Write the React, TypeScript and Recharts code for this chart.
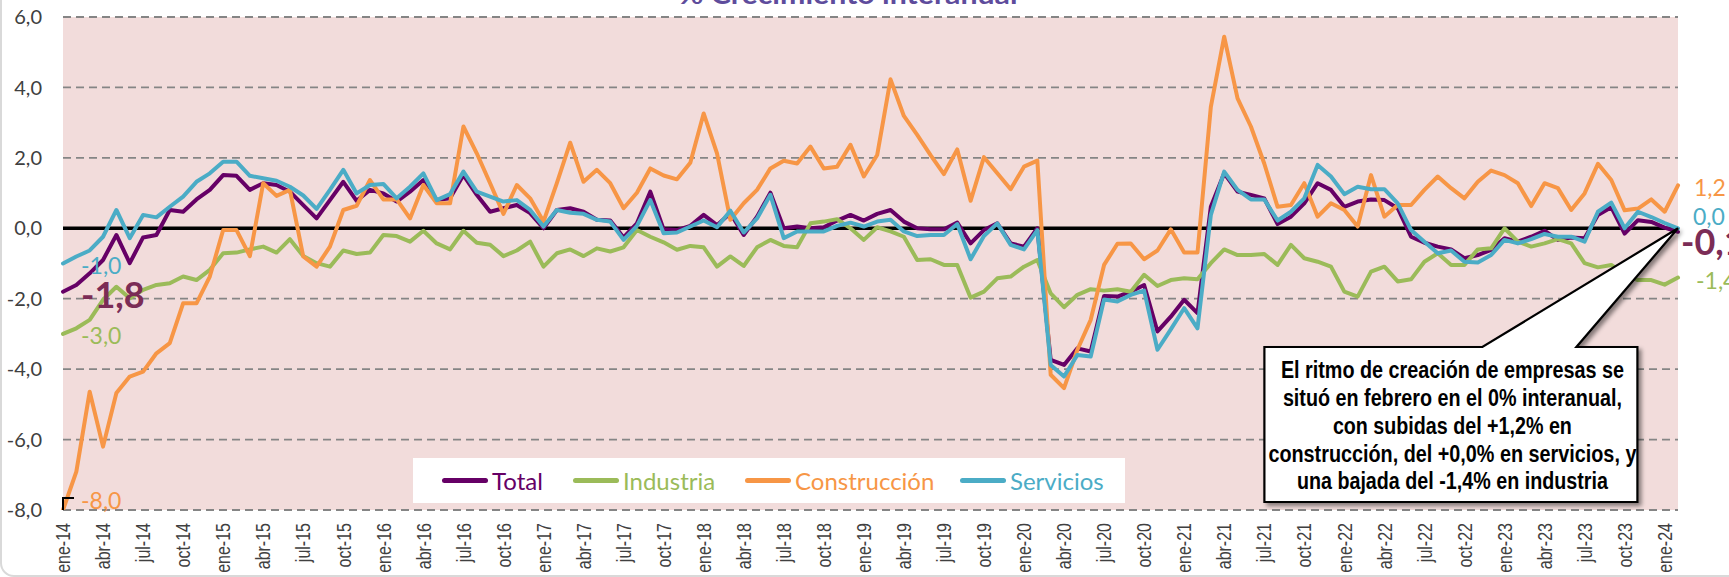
import React from 'react';
import {
  LineChart,
  Line,
  XAxis,
  YAxis,
  CartesianGrid,
  ReferenceLine,
  ReferenceDot,
  Legend,
} from 'recharts';

const MONTHS = ['ene', 'feb', 'mar', 'abr', 'may', 'jun', 'jul', 'ago', 'sep', 'oct', 'nov', 'dic'];
const YEARS = ['14', '15', '16', '17', '18', '19', '20', '21', '22', '23', '24'];
const N_POINTS = 122; // ene-14 .. feb-24
const CATEGORIES: string[] = YEARS.flatMap((y) => MONTHS.map((m) => `${m}-${y}`)).slice(0, N_POINTS);

const Y_TICKS = [-8, -6, -4, -2, 0, 2, 4, 6];

const TOTAL = [
  -1.8, -1.61, -1.28, -0.9, -0.19, -0.99, -0.26, -0.19, 0.52, 0.47, 0.82, 1.09,
  1.51, 1.49, 1.09, 1.28, 1.23, 1.04, 0.66, 0.28, 0.8, 1.32, 0.78, 1.09,
  0.99, 0.76, 1.04, 1.37, 0.8, 0.85, 1.51, 0.95, 0.47, 0.57, 0.66, 0.43,
  0.0, 0.52, 0.57, 0.47, 0.24, 0.22, -0.26, 0.14, 1.04, -0.03, -0.05, 0.07,
  0.38, 0.09, 0.43, -0.19, 0.33, 1.01, 0.0, 0.05, 0.0, 0.03, 0.22, 0.38,
  0.22, 0.41, 0.52, 0.19, 0.0, -0.03, -0.03, 0.16, -0.43, -0.05, 0.14, -0.43,
  -0.52, 0.0, -3.74, -3.88, -3.41, -3.5, -1.92, -1.94, -1.8, -1.61, -2.93, -2.51,
  -2.03, -2.41, 0.61, 1.56, 1.04, 0.95, 0.85, 0.12, 0.33, 0.71, 1.28, 1.09,
  0.61, 0.76, 0.82, 0.8, 0.57, -0.24, -0.41, -0.52, -0.6, -0.85, -0.76, -0.61,
  -0.28, -0.38, -0.24, -0.07, -0.33, -0.26, -0.28, 0.38, 0.6, -0.15, 0.23, 0.18,
  0.02, -0.1,
];

const INDUSTRIA = [
  -3.0, -2.84, -2.6, -2.03, -1.66, -1.99, -1.75, -1.61, -1.56, -1.37, -1.47, -1.18,
  -0.71, -0.69, -0.6, -0.52, -0.69, -0.31, -0.79, -0.99, -1.09, -0.63, -0.73, -0.69,
  -0.19, -0.22, -0.38, -0.07, -0.43, -0.6, -0.07, -0.41, -0.47, -0.79, -0.63, -0.38,
  -1.09, -0.71, -0.6, -0.79, -0.57, -0.66, -0.54, -0.05, -0.24, -0.4, -0.61, -0.5,
  -0.54, -1.09, -0.8, -1.07, -0.54, -0.33, -0.5, -0.54, 0.14, 0.19, 0.26, 0.0,
  -0.33, 0.03, -0.09, -0.24, -0.9, -0.88, -1.04, -1.04, -1.97, -1.8, -1.42, -1.37,
  -1.09, -0.9, -1.85, -2.24, -1.89, -1.73, -1.77, -1.73, -1.8, -1.32, -1.64, -1.47,
  -1.42, -1.45, -0.99, -0.6, -0.76, -0.76, -0.73, -1.04, -0.47, -0.85, -0.95, -1.09,
  -1.8, -1.94, -1.23, -1.09, -1.51, -1.45, -0.95, -0.71, -1.04, -1.04, -0.6, -0.57,
  0.0, -0.38, -0.52, -0.43, -0.31, -0.43, -0.99, -1.11, -1.04, -1.3, -1.47, -1.47,
  -1.6, -1.4,
];

const CONSTRUCCION = [
  -8.0, -6.91, -4.64, -6.2, -4.68, -4.21, -4.07, -3.55, -3.26, -2.13, -2.13, -1.37,
  -0.05, -0.05, -0.79, 1.28, 0.92, 1.09, -0.8, -1.09, -0.52, 0.52, 0.64, 1.37,
  0.82, 0.82, 0.28, 1.23, 0.71, 0.71, 2.89, 2.13, 1.28, 0.41, 1.23, 0.85,
  0.19, 1.28, 2.43, 1.32, 1.66, 1.28, 0.57, 1.01, 1.7, 1.5, 1.39, 1.86,
  3.26, 2.13, 0.24, 0.71, 1.09, 1.7, 1.92, 1.84, 2.32, 1.7, 1.75, 2.37,
  1.47, 2.08, 4.23, 3.19, 2.65, 2.08, 1.54, 2.24, 0.78, 2.02, 1.56, 1.11,
  1.75, 1.92, -4.16, -4.54, -3.45, -2.6, -1.04, -0.44, -0.43, -0.88, -0.63, -0.03,
  -0.69, -0.69, 3.45, 5.44, 3.69, 2.89, 1.84, 0.61, 0.66, 1.28, 0.33, 0.71,
  0.52, 0.05, 1.51, 0.33, 0.66, 0.66, 1.09, 1.47, 1.14, 0.85, 1.32, 1.64,
  1.51, 1.28, 0.63, 1.28, 1.14, 0.52, 0.99, 1.83, 1.37, 0.51, 0.56, 0.82,
  0.47, 1.22,
];

const SERVICIOS = [
  -1.0, -0.8, -0.63, -0.24, 0.52, -0.28, 0.38, 0.31, 0.61, 0.9, 1.32, 1.56,
  1.89, 1.89, 1.49, 1.42, 1.35, 1.18, 0.93, 0.55, 1.09, 1.66, 0.99, 1.23,
  1.26, 0.85, 1.18, 1.56, 0.8, 0.97, 1.61, 1.04, 0.9, 0.76, 0.8, 0.52,
  0.05, 0.52, 0.44, 0.41, 0.24, 0.19, -0.33, 0.07, 0.8, -0.14, -0.12, 0.05,
  0.22, 0.03, 0.5, -0.12, 0.28, 0.95, -0.28, -0.09, -0.09, -0.09, 0.07, 0.16,
  0.05, 0.19, 0.24, -0.09, -0.22, -0.19, -0.19, 0.12, -0.88, -0.22, 0.14, -0.47,
  -0.6, -0.05, -3.88, -4.21, -3.6, -3.64, -2.02, -2.08, -1.89, -1.77, -3.45, -2.87,
  -2.27, -2.84, 0.38, 1.61, 1.09, 0.82, 0.82, 0.22, 0.47, 0.85, 1.8, 1.47,
  0.97, 1.18, 1.11, 1.11, 0.71, -0.05, -0.38, -0.71, -0.63, -0.95, -0.97, -0.76,
  -0.33, -0.43, -0.31, -0.16, -0.24, -0.24, -0.38, 0.47, 0.73, 0.0, 0.47, 0.32,
  0.15, 0.0,
];

const CALLOUT_LINES = [
  'El ritmo de creación de empresas se',
  'situó en febrero en el 0% interanual,',
  'con subidas del +1,2% en',
  'construcción, del +0,0% en servicios, y',
  'una bajada del -1,4% en industria',
];

const TITLE = '% Crecimiento interanual';

const SERIES = [
  { key: 'total', name: 'Total', color: '#660066' },
  { key: 'industria', name: 'Industria', color: '#9BBB59' },
  { key: 'construccion', name: 'Construcción', color: '#F79646' },
  { key: 'servicios', name: 'Servicios', color: '#4BACC6' },
];

const data = CATEGORIES.map((label, i) => ({
  label,
  total: TOTAL[i],
  industria: INDUSTRIA[i],
  construccion: CONSTRUCCION[i],
  servicios: SERVICIOS[i],
}));

const LAST = N_POINTS - 1;
const fmt = (v: number) => v.toFixed(1).replace('.', ',');

const LABEL_STYLE: Record<string, any> = {
  total: { sdx: 18, sdy: 16, edx: 3, edy: 23, size: 36, weight: 700, color: '#7B2C56' },
  industria: { sdx: 18, sdy: 10, edx: 18, edy: 11, size: 23, weight: 400, color: '#9BBB59' },
  construccion: { sdx: 18, sdy: -1.5, edx: 16, edy: 11, size: 23, weight: 400, color: '#F79646' },
  servicios: { sdx: 18, sdy: 10, edx: 15, edy: -3, size: 23, weight: 400, color: '#4BACC6' },
};

const makeEndLabel = (key: string) => (p: any) => {
  const idx = p.index;
  if (idx !== 0 && idx !== LAST) return null;
  const x = p.x ?? p.viewBox?.x;
  const y = p.y ?? p.viewBox?.y;
  const st = LABEL_STYLE[key];
  const v = idx === 0 ? data[0][key as 'total'] : data[LAST][key as 'total'];
  const dx = idx === 0 ? st.sdx : st.edx;
  const dy = idx === 0 ? st.sdy : st.edy;
  return (
    <g key={`${key}-${idx}`}>
      {key === 'construccion' && idx === 0 ? (
        <path d={`M${x},${y} L${x},${y - 12} L${x + 11},${y - 12}`} stroke="#000" strokeWidth={2} fill="none" />
      ) : null}
      <text
        x={x + dx}
        y={y + dy}
        fontFamily="Lato, 'Open Sans', sans-serif"
        fontSize={st.size}
        fontWeight={st.weight}
        fill={st.color}
        textAnchor="start"
      >
        {fmt(v)}
      </text>
    </g>
  );
};

const XTick = (props: any) => {
  const { x, y, payload } = props;
  return (
    <g transform={`translate(${x},${y}) rotate(-90) scale(0.8,1)`}>
      <text
        x={0}
        y={0}
        dy="0.36em"
        textAnchor="end"
        fontFamily="'Liberation Sans', Arial, sans-serif"
        fontSize={20}
        fill="#404040"
      >
        {payload.value}
      </text>
    </g>
  );
};

const YTick = (props: any) => {
  const { x, y, payload } = props;
  return (
    <text
      x={x}
      y={y}
      dy="0.36em"
      textAnchor="end"
      fontFamily="Lato, 'Open Sans', sans-serif"
      fontSize={20}
      fill="#404040"
    >
      {fmt(payload.value)}
    </text>
  );
};

const LEGEND_OFFSETS = [29, 160, 332, 547];

const LegendContent = () => (
  <div style={{ position: 'relative', width: 712, height: 45, background: '#FFFFFF' }}>
    {SERIES.map((s, i) => (
      <div
        key={s.key}
        style={{
          position: 'absolute',
          left: LEGEND_OFFSETS[i],
          top: 0,
          height: 45,
          display: 'flex',
          alignItems: 'center',
        }}
      >
        <div style={{ width: 46, height: 5, borderRadius: 3, background: s.color }} />
        <span
          style={{
            marginLeft: 4,
            fontFamily: "Lato, 'Open Sans', sans-serif",
            fontSize: 24,
            color: s.color,
            lineHeight: '45px',
          }}
        >
          {s.name}
        </span>
      </div>
    ))}
  </div>
);

const CalloutShape = (props: any) => {
  const { cx, cy } = props;
  const L = cx - 413.6;
  const R = cx - 40.6;
  const T = cy + 118.7;
  const B = cy + 273.7;
  const b1 = cx - 195.6;
  const b2 = cx - 101.6;
  const d = `M${L},${T} L${b1},${T} L${cx},${cy} L${b2},${T} L${R},${T} L${R},${B} L${L},${B} Z`;
  const tx = cx - 225.6;
  const baselines = [150, 177.8, 205.6, 233.4, 261.2];
  const lengths = [343, 339, 239, 368, 311];
  return (
    <g>
      <defs>
        <filter id="calloutShadow" x="-10%" y="-10%" width="130%" height="130%">
          <feDropShadow dx="3" dy="3" stdDeviation="2" floodColor="#000" floodOpacity="0.45" />
        </filter>
      </defs>
      <path d={d} fill="#FFFFFF" stroke="#000000" strokeWidth={2.2} strokeLinejoin="miter" filter="url(#calloutShadow)" />
      {CALLOUT_LINES.map((line, i) => (
        <text
          key={i}
          x={tx}
          y={cy + baselines[i]}
          textAnchor="middle"
          fontFamily="'Liberation Sans', Arial, sans-serif"
          fontWeight={700}
          fontSize={23}
          fill="#000"
          textLength={lengths[i]}
          lengthAdjust="spacingAndGlyphs"
        >
          {line}
        </text>
      ))}
    </g>
  );
};

export default function App() {
  return (
    <div style={{ position: 'absolute', left: 0, top: 0, width: 1729, height: 577, background: '#FFFFFF', overflow: 'hidden' }}>
      <div
        style={{
          position: 'absolute',
          left: 0,
          top: -30,
          width: 1770,
          height: 607,
          border: '2px solid #D9D9D9',
          borderRadius: 14,
          boxSizing: 'border-box',
        }}
      />
      <svg width={1729} height={577} style={{ position: 'absolute', left: 0, top: 0, pointerEvents: 'none' }}>
        <text
          x={848}
          y={3.5}
          textAnchor="middle"
          fontFamily="Lato, 'Open Sans', sans-serif"
          fontWeight={700}
          fontSize={26}
          fill="#5E4C9C"
          textLength={339}
          lengthAdjust="spacingAndGlyphs"
        >
          {TITLE}
        </text>
      </svg>
      <div style={{ position: 'absolute', left: 0, top: 0 }}>
        <LineChart width={1729} height={577} data={data} margin={{ top: 17, right: 51, bottom: 0, left: 0 }}>
          <CartesianGrid
            horizontal
            vertical={false}
            fill="#F2DCDB"
            fillOpacity={1}
            stroke="#858585"
            strokeWidth={1.8}
            strokeDasharray="8 5"
            horizontalValues={Y_TICKS}
          />
          <XAxis
            dataKey="label"
            type="category"
            interval={2}
            height={67}
            axisLine={false}
            tickLine={false}
            tickSize={0}
            tickMargin={13}
            tick={<XTick />}
          />
          <YAxis
            type="number"
            domain={[-8, 6]}
            ticks={Y_TICKS}
            width={63}
            axisLine={false}
            tickLine={false}
            tickSize={0}
            tickMargin={21}
            tick={<YTick />}
            allowDataOverflow
          />
          <ReferenceLine y={0} stroke="#000000" strokeWidth={3.5} />
          <Legend
            layout="vertical"
            align="center"
            verticalAlign="middle"
            wrapperStyle={{ position: 'absolute', left: 413, top: 458, width: 712, height: 45 }}
            content={<LegendContent />}
          />
          {SERIES.map((s) => (
            <Line
              key={s.key}
              type="linear"
              dataKey={s.key}
              name={s.name}
              stroke={s.color}
              strokeWidth={4}
              strokeLinejoin="round"
              strokeLinecap="round"
              dot={false}
              activeDot={false}
              isAnimationActive={false}
              label={makeEndLabel(s.key)}
            />
          ))}
          <ReferenceDot
            x={CATEGORIES[LAST]}
            y={SERVICIOS[LAST]}
            r={0}
            ifOverflow="visible"
            shape={(p: any) => <CalloutShape {...p} />}
          />
        </LineChart>
      </div>
    </div>
  );
}
